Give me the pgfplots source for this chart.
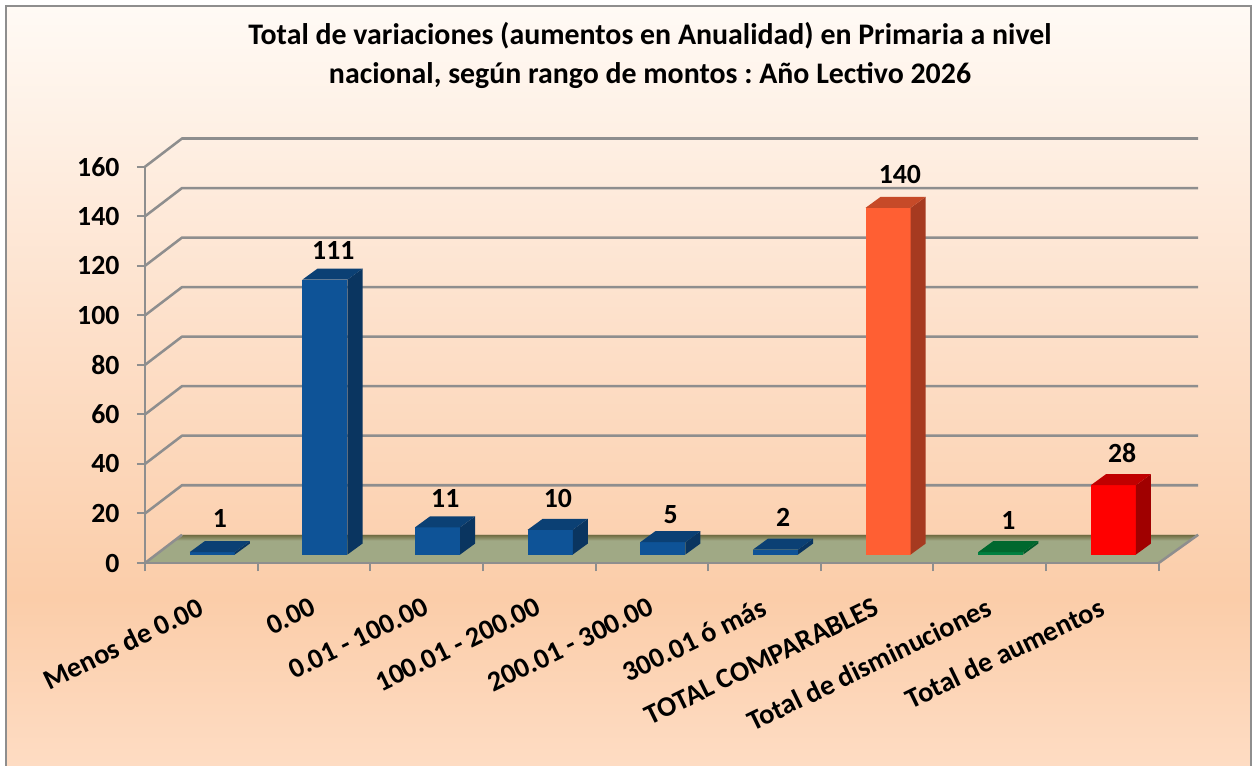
\documentclass[border=0pt]{standalone}
\usepackage{pgfplots}
\pgfplotsset{compat=1.18}
\usepackage{pgfplotstable}
\usepackage{fontspec}
\setmainfont{Carlito}
\frenchspacing
\definecolor{gridc}{HTML}{8E8E8E}
\definecolor{blueF}{HTML}{0E5397}
\definecolor{blueS}{HTML}{0A3560}
\definecolor{blueT}{HTML}{0B4074}
\definecolor{orF}{HTML}{FF5F33}
\definecolor{orS}{HTML}{A63A20}
\definecolor{orT}{HTML}{C64A28}
\definecolor{redF}{HTML}{FF0000}
\definecolor{redS}{HTML}{A00000}
\definecolor{redT}{HTML}{C00000}
\definecolor{grF}{HTML}{008040}
\definecolor{grS}{HTML}{005A2B}
\definecolor{grT}{HTML}{00682E}
\definecolor{floorc}{HTML}{A0A985}
\definecolor{floord}{HTML}{6E6A3F}
\definecolor{bgA}{HTML}{FEDCC3}
\definecolor{bgB}{HTML}{FBCDA9}
\definecolor{bgC}{HTML}{FDE0CA}
\definecolor{bgD}{HTML}{FFFAF5}
\pgfdeclareverticalshading{bggradB}{100bp}{
  color(0bp)=(bgA);
  color(25bp)=(bgA);
  color(36bp)=(bgB);
  color(54bp)=(bgC);
  color(75bp)=(bgD);
  color(100bp)=(bgD)}
\pgfplotstableread{
i v d x
0 1 9.3 0.666
1 111 7.2 0.672
2 11 7.3 0.666
3 10 8.3 0.666
4 5 6.8 0.666
5 2 8.6 0.666
6 140 8.85 0.702
7 1 8.45 0.666
8 28 8.45 0.675
}\labels
% one bar: index, value, front, side, top colours
\newcommand{\tdbar}[5]{%
  \pgfmathsetmacro{\xa}{#1+0.3977}%
  \pgfmathsetmacro{\xb}{#1+0.7977}%
  \pgfmathsetmacro{\xc}{#1+0.9310}%
  \pgfmathsetmacro{\xd}{#1+0.5310}%
  \pgfmathsetmacro{\ya}{3.42}%
  \pgfmathsetmacro{\yb}{#2+3.42}%
  \pgfmathsetmacro{\yc}{#2+7.85}%
  \pgfmathsetmacro{\ye}{7.85}%
  \edef\temp{\noexpand\addplot[fill=#3,draw=none,forget plot] coordinates {(\xa,\ya)(\xb,\ya)(\xb,\yb)(\xa,\yb)} --cycle;
  \noexpand\addplot[fill=#4,draw=none,forget plot] coordinates {(\xb,\ya)(\xc,\ye)(\xc,\yc)(\xb,\yb)} --cycle;
  \noexpand\addplot[fill=#5,draw=none,forget plot] coordinates {(\xa,\yb)(\xb,\yb)(\xc,\yc)(\xd,\yc)} --cycle;}%
  \temp}
% one wall grid line at a given value
\newcommand{\wall}[1]{%
  \pgfmathsetmacro{\yy}{#1+11.4}%
  \edef\temp{\noexpand\addplot[gridc,line width=1.9pt,forget plot,line join=round] coordinates {(0,#1)(0.3286,\yy)(9.35,\yy)};}%
  \temp}
\begin{document}
\begin{tikzpicture}[x=0.75pt,y=0.75pt]
\path[use as bounding box] (-145,-202) rectangle (1107,563);
\fill[white] (-145,-202) rectangle (1107,563);
\shade[shading=bggradB] (-139,-202) rectangle (1107,557);
\draw[gridc,line width=1.6pt] (-139,-204) -- (-139,557) -- (1106,557) -- (1106,-204);
\begin{axis}[
  at={(0,0)},anchor=south west,
  scale only axis,
  width=760.3pt,height=297.2pt,
  xmin=0,xmax=9,ymin=0,ymax=160,
  clip=false,
  axis x line*=bottom,axis y line*=left,
  axis line style={-,gridc,line width=1.9pt},
  tick style={gridc,line width=1.5pt},
  tick align=outside,
  major tick length=6pt,
  xtick={0,1,2,3,4,5,6,7,8,9},
  xticklabels={},
  extra x ticks={0.5,1.5,2.5,3.5,4.5,5.5,6.5,7.5,8.5},
  extra x tick labels={Menos de 0.00,0.00,0.01 - 100.00,100.01 - 200.00,200.01 - 300.00,300.01 ó más,TOTAL COMPARABLES,Total de disminuciones,Total de aumentos},
  extra x tick style={major tick length=0pt,
    x tick label style={rotate=26,anchor=north east,font=\fontsize{21.2pt}{24pt}\selectfont\bfseries,inner sep=0pt,yshift=-21pt,xshift=-14pt}},
  ytick={0,20,...,160},
  y tick label style={font=\fontsize{20.8pt}{24pt}\selectfont\bfseries,xshift=-13pt,inner sep=0pt},
  /pgf/number format/assume math mode=true,
]
\addplot[fill=floorc,draw=none,forget plot] coordinates {(0,0)(9,0)(9.35,11.4)(0.3286,11.4)} --cycle;
\addplot[draw=none,forget plot,top color=floord,bottom color=floorc] coordinates {(0.3286,11.4)(9.35,11.4)(9.28,9.0)(0.25,9.0)} --cycle;
\wall{20}\wall{40}\wall{60}\wall{80}\wall{100}\wall{120}\wall{140}\wall{160}
\addplot[gridc,line width=1.9pt,forget plot] coordinates {(0,0)(0.3286,11.4)};
\addplot[gridc,line width=1.9pt,forget plot] coordinates {(9,0)(9.35,11.4)};
\addplot[gridc,line width=1.9pt,forget plot] coordinates {(0,0)(9,0)};
\tdbar{0}{1}{blueF}{blueS}{blueT}
\tdbar{1}{111}{blueF}{blueS}{blueT}
\tdbar{2}{11}{blueF}{blueS}{blueT}
\tdbar{3}{10}{blueF}{blueS}{blueT}
\tdbar{4}{5}{blueF}{blueS}{blueT}
\tdbar{5}{2}{blueF}{blueS}{blueT}
\tdbar{6}{140}{orF}{orS}{orT}
\tdbar{7}{1}{grF}{grS}{grT}
\tdbar{8}{28}{redF}{redS}{redT}
\addplot[draw=none,forget plot,point meta=explicit,
  nodes near coords={\pgfmathprintnumber[fixed,precision=0]{\pgfplotspointmeta}},
  every node near coord/.style={font=\fontsize{20.8pt}{24pt}\selectfont\bfseries,text=black,anchor=center,inner sep=0pt}]
  table[x expr=\thisrow{i}+\thisrow{x},y expr=\thisrow{v}+7.85+\thisrow{d},meta=v] {\labels};
\end{axis}
\node[align=center,font=\fontsize{22.4pt}{29.2pt}\selectfont\bfseries,text=black] at (505,507.5) {Total de variaciones (aumentos en Anualidad) en Primaria a nivel\\nacional, según rango de montos : Año Lectivo 2026};
\end{tikzpicture}
\end{document}
